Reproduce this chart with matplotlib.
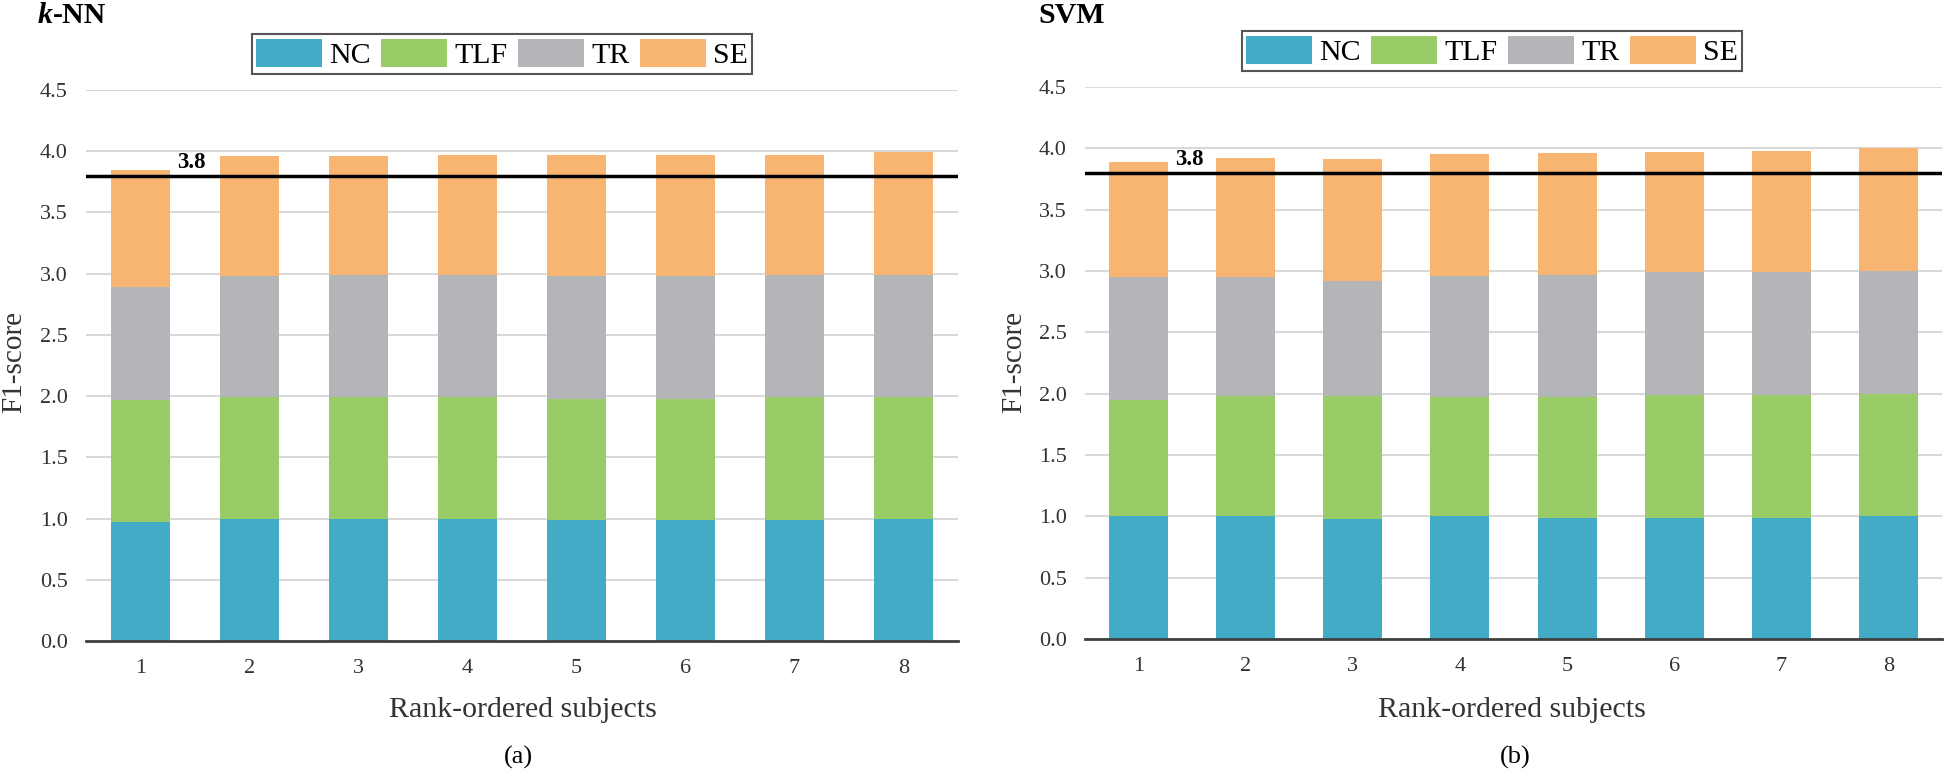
import numpy as np
import matplotlib
matplotlib.use("Agg")
import matplotlib.pyplot as plt

plt.rcParams['font.family'] = ['Liberation Serif', 'DejaVu Serif']

subjects = [1, 2, 3, 4, 5, 6, 7, 8]
classes = ["NC", "TLF", "TR", "SE"]
colors = ["#42abc6", "#99cc66", "#b4b5b9", "#f8b572"]

# per-class F1 scores (stacked)
knn_nc = [0.97, 1.00, 1.00, 1.00, 0.99, 0.99, 0.99, 1.00]
knn_tlf = [1.00, 0.99, 0.99, 0.99, 0.99, 0.99, 1.00, 0.99]
knn_tr = [0.92, 0.99, 1.00, 1.00, 1.00, 1.00, 1.00, 1.00]
knn_se = [0.96, 0.98, 0.97, 0.98, 0.99, 0.99, 0.98, 1.00]

svm_nc = [1.00, 1.00, 0.98, 1.00, 0.99, 0.99, 0.99, 1.00]
svm_tlf = [0.95, 0.98, 1.00, 0.97, 0.98, 1.00, 1.00, 1.00]
svm_tr = [1.00, 0.97, 0.94, 0.99, 1.00, 1.00, 1.00, 1.00]
svm_se = [0.94, 0.97, 0.99, 0.99, 0.99, 0.98, 0.99, 1.00]

threshold = 3.8
yticks = [0.0, 0.5, 1.0, 1.5, 2.0, 2.5, 3.0, 3.5, 4.0, 4.5]

W, H = 1945, 772
fig = plt.figure(figsize=(W / 100, H / 100), dpi=100)


def px(x, y):
    return x / W, 1 - y / H


def panel(rect, series, title, sub, leg_center, tx, xl_x, sub_x, ylab_x):
    ax = fig.add_axes(rect)
    bottom = np.zeros(len(subjects))
    handles = []
    for vals, name, c in zip(series, classes, colors):
        b = ax.bar(subjects, vals, width=0.55, bottom=bottom, color=c,
                   label=name, zorder=3)
        handles.append(b)
        bottom += np.array(vals)
    ax.axhline(threshold, color="black", lw=2.5, zorder=4)
    ax.annotate("3.8", xy=(1.47, threshold), xytext=(0, 2),
                textcoords="offset points", ha="center", va="bottom",
                fontsize=16.5, fontweight="bold", zorder=5)
    ax.set_xlim(0.5, 8.5)
    ax.set_ylim(0, 4.5)
    ax.set_yticks(yticks)
    ax.set_yticklabels(["%.1f" % v for v in yticks])
    ax.set_xticks(subjects)
    ax.yaxis.grid(True, color="#d9d9d9", lw=1.5, zorder=0)
    ax.set_axisbelow(True)
    for s in ["top", "right", "left"]:
        ax.spines[s].set_visible(False)
    ax.spines["bottom"].set_color("#404040")
    ax.spines["bottom"].set_linewidth(2)
    ax.spines["bottom"].set_zorder(6)
    ax.tick_params(axis="both", length=0, labelsize=16, colors="#333333",
                   pad=13)

    lx, ly = px(*leg_center)
    leg = fig.legend(handles=handles, labels=classes, loc="center",
                     bbox_to_anchor=(lx, ly), ncol=4, fontsize=21.5,
                     handlelength=2.2, handleheight=1.1, handletextpad=0.25,
                     columnspacing=0.35, borderpad=0.15, fancybox=False,
                     edgecolor="#555555", framealpha=1)
    leg.get_frame().set_linewidth(1.5)

    # title
    x0, y0 = px(tx, 23)
    if title == "k-NN":
        t = fig.text(x0, y0, "k", fontsize=21.5, fontweight="bold",
                     fontstyle="italic", va="baseline")
        ax.annotate("-NN", xy=(1, 0), xycoords=t, fontsize=21.5,
                    fontweight="bold", va="bottom", ha="left",
                    annotation_clip=False)
    else:
        fig.text(x0, y0, title, fontsize=21.5, fontweight="bold",
                 va="baseline")

    fig.text(*px(xl_x, 710), "Rank-ordered subjects", fontsize=21.5,
             ha="center", va="center", color="#333333")
    fig.text(*px(sub_x, 757), sub, fontsize=19, ha="center", va="center")
    fig.text(*px(ylab_x, 362), "F1-score", fontsize=21, rotation=90,
             ha="center", va="center", color="#333333")
    return ax


panel([86 / W, 1 - 641 / H, 872 / W, 551 / H],
      [knn_nc, knn_tlf, knn_tr, knn_se], "k-NN", "(a)",
      (502, 54), 38, 523, 518, 14)
panel([1085 / W, 1 - 639 / H, 857 / W, 552 / H],
      [svm_nc, svm_tlf, svm_tr, svm_se], "SVM", "(b)",
      (1492, 51), 1038, 1512, 1515, 1014)

fig.savefig("out.png", dpi=100)
